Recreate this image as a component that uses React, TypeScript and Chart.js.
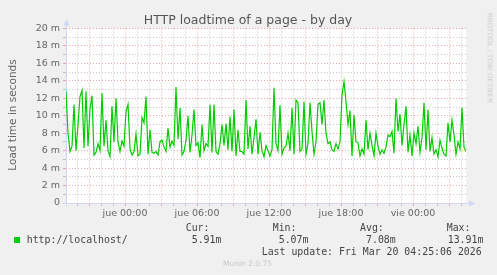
import React, { useEffect, useRef } from "react";
import { Chart, registerables } from "chart.js";

Chart.register(...registerables);

// ---------- data ----------
const chartTitle = "HTTP loadtime of a page - by day";
const yAxisTitle = "Load time in seconds";
const seriesName = "http://localhost/";
const sideText = "RRDTOOL / TOBI OETIKER";
const footerText = "Munin 2.0.75";
const lastUpdate = "Last update: Fri Mar 20 04:25:06 2026";

// one sample every 10 minutes, starting Wed 19:05 (hours since Wed 00:00)
const startHour = 19 + 5 / 60;
const stepHours = 10 / 60;

// load time in milliseconds ("m")
const loadTime = [
  12.8, 8.0, 5.9, 6.5, 11.3, 6.0, 9.0, 12.2, 12.9, 6.3,
  12.8, 6.5, 10.8, 12.3, 5.5, 5.8, 6.8, 6.0, 12.6, 6.5,
  9.5, 6.0, 5.3, 11.1, 7.0, 12.0, 7.0, 5.9, 7.1, 6.5,
  10.5, 11.3, 6.2, 5.5, 5.9, 7.9, 5.4, 5.6, 9.8, 9.2,
  12.2, 5.6, 8.4, 5.8, 5.7, 5.9, 5.5, 7.0, 7.2, 6.4,
  5.9, 8.6, 6.4, 7.1, 6.6, 13.3, 7.3, 10.9, 5.5, 5.9,
  7.2, 10.0, 5.8, 7.8, 10.7, 6.6, 6.9, 5.2, 9.0, 6.0,
  6.8, 6.5, 11.3, 5.8, 11.3, 5.9, 5.6, 6.8, 9.0, 6.6,
  9.1, 6.1, 9.9, 5.9, 10.7, 5.4, 8.4, 5.9, 5.9, 5.6,
  11.8, 6.2, 8.8, 5.6, 7.5, 9.6, 5.6, 8.1, 6.0, 5.3,
  6.6, 6.0, 5.4, 6.1, 13.2, 6.8, 6.0, 11.2, 5.6, 6.3,
  6.5, 8.0, 6.0, 10.9, 5.6, 11.8, 11.5, 5.9, 6.2, 11.6,
  5.6, 6.8, 11.5, 8.2, 5.6, 7.0, 11.3, 11.5, 9.0, 11.8,
  8.0, 6.8, 7.0, 6.1, 5.9, 6.8, 6.2, 7.0, 12.4, 13.9,
  11.6, 9.0, 10.6, 5.4, 10.1, 7.0, 6.9, 5.4, 6.2, 5.6,
  9.5, 6.1, 8.0, 6.6, 5.4, 8.0, 6.5, 5.6, 6.1, 5.7,
  6.4, 7.8, 7.6, 8.2, 5.7, 12.0, 8.2, 10.2, 6.6, 9.0,
  11.1, 5.8, 7.8, 5.4, 8.0, 6.8, 8.8, 5.8, 7.5, 11.5,
  6.1, 10.7, 5.9, 7.5, 5.6, 6.1, 5.3, 7.2, 6.3, 5.6,
  5.4, 9.2, 7.0, 9.5, 7.8, 5.6, 7.0, 6.2, 10.9, 6.4,
  5.91,
];

const xTickHours = [24, 30, 36, 42, 48];
const xTickLabels = ["jue 00:00", "jue 06:00", "jue 12:00", "jue 18:00", "vie 00:00"];
const yMin = 0;
const yMax = 20;
const yUnit = "m";

const statLabels = ["Cur:", "Min:", "Avg:", "Max:"];
const statValues = ["5.91m", "5.07m", "7.08m", "13.91m"];

// ---------- styles ----------
const BG = "#F0F0F0";
const FONT_COLOR = "#666666";
const LINE_COLOR = "#00CC00";
const AXIS_COLOR = "#CFD6F8";
const GRID_MINOR = "rgba(143,143,143,0.5)";
const GRID_MAJOR = "rgba(222,79,79,0.5)";
const SANS = "'DejaVu Sans', sans-serif";
const MONO = "'DejaVu Sans Mono', monospace";

const endHour = startHour + (loadTime.length - 1) * stepHours;

const axisPlugin = {
  id: "muninAxes",
  beforeDraw(chart: any) {
    const { ctx, chartArea } = chart;
    ctx.save();
    ctx.fillStyle = "#FFFFFF";
    ctx.fillRect(chartArea.left, chartArea.top, chartArea.right - chartArea.left, chartArea.bottom - chartArea.top);
    ctx.restore();
  },
  beforeDatasetsDraw(chart: any) {
    const { ctx, chartArea } = chart;
    const l = Math.round(chartArea.left) + 0.5;
    const b = Math.round(chartArea.bottom) + 0.5;
    ctx.save();
    ctx.strokeStyle = AXIS_COLOR;
    ctx.fillStyle = AXIS_COLOR;
    ctx.lineWidth = 1;
    ctx.beginPath();
    ctx.moveTo(l - 3, b);
    ctx.lineTo(chartArea.right + 4, b);
    ctx.moveTo(l, b + 3);
    ctx.lineTo(l, chartArea.top - 4);
    ctx.stroke();
    ctx.beginPath();
    ctx.moveTo(chartArea.right + 9, b);
    ctx.lineTo(chartArea.right + 3, b - 3);
    ctx.lineTo(chartArea.right + 3, b + 3);
    ctx.closePath();
    ctx.fill();
    ctx.beginPath();
    ctx.moveTo(l, chartArea.top - 9);
    ctx.lineTo(l - 3, chartArea.top - 3);
    ctx.lineTo(l + 3, chartArea.top - 3);
    ctx.closePath();
    ctx.fill();
    ctx.restore();
  },
};

function MuninChart() {
  const ref = useRef<HTMLCanvasElement | null>(null);
  useEffect(() => {
    if (!ref.current) return;
    const points = loadTime.map((v, i) => ({ x: startHour + i * stepHours, y: v }));
    const chart = new Chart(ref.current, {
      type: "line",
      data: {
        datasets: [
          {
            label: seriesName,
            data: points,
            borderColor: LINE_COLOR,
            borderWidth: 1.2,
            pointRadius: 0,
            tension: 0,
            fill: false,
          },
        ],
      },
      options: {
        animation: false,
        responsive: false,
        devicePixelRatio: 1,
        events: [],
        layout: { padding: { left: 0, top: 28.5, right: 31, bottom: 0 } },
        plugins: { legend: { display: false }, tooltip: { enabled: false }, title: { display: false } },
        scales: {
          x: {
            type: "linear",
            min: startHour,
            max: endHour,
            afterBuildTicks: (scale: any) => {
              const t: any[] = [];
              for (let h = Math.ceil(startHour); h <= Math.floor(endHour); h++) t.push({ value: h });
              scale.ticks = t;
            },
            afterFit: (scale: any) => {
              scale.height = 72;
            },
            ticks: {
              autoSkip: false,
              maxRotation: 0,
              minRotation: 0,
              padding: 2,
              color: FONT_COLOR,
              font: { family: "DejaVu Sans", size: 9.5 },
              callback: (v: any) => {
                const k = xTickHours.indexOf(Number(v));
                return k >= 0 ? xTickLabels[k] : "";
              },
            },
            grid: {
              color: (c: any) => (c.tick && Number(c.tick.value) % 3 === 0 ? GRID_MAJOR : GRID_MINOR),
              tickLength: 3,
              lineWidth: 1,
            },
            border: { display: false, dash: [1, 2] },
          },
          y: {
            type: "linear",
            min: yMin,
            max: yMax,
            afterBuildTicks: (scale: any) => {
              const t: any[] = [];
              for (let v = yMin; v <= yMax; v++) t.push({ value: v });
              scale.ticks = t;
            },
            afterFit: (scale: any) => {
              scale.width = 66;
            },
            ticks: {
              autoSkip: false,
              padding: 3,
              color: FONT_COLOR,
              font: { family: "DejaVu Sans", size: 9.5 },
              callback: (v: any) => {
                const n = Number(v);
                if (n % 2 !== 0) return "";
                return n === 0 ? "0" : `${n} ${yUnit}`;
              },
            },
            grid: {
              color: (c: any) => (c.tick && Number(c.tick.value) % 2 === 0 ? GRID_MAJOR : GRID_MINOR),
              tickLength: 3,
              lineWidth: 1,
            },
            border: { display: false, dash: [1, 2] },
          },
        },
      },
      plugins: [axisPlugin],
    } as any);
    return () => chart.destroy();
  }, []);
  return <canvas ref={ref} width={497} height={275} style={{ position: "absolute", left: 0, top: 0 }} />;
}

function Txt(props: { x: number; y: number; text: string; size: number; color?: string; font?: string; anchor?: "left" | "center"; rotate?: number }) {
  const { x, y, text, size, color = FONT_COLOR, font = SANS, anchor = "left", rotate = 0 } = props;
  const tx = anchor === "center" ? "-50%" : "0";
  return (
    <div
      style={{
        position: "absolute",
        left: x,
        top: y,
        transform: `translate(${tx}, -50%) rotate(${rotate}deg)`,
        transformOrigin: anchor === "center" ? "50% 50%" : "0 50%",
        fontFamily: font,
        fontSize: size,
        lineHeight: 1,
        color,
        whiteSpace: "pre",
      }}
    >
      {text}
    </div>
  );
}

export default function App() {
  const statLabelX = [185.7, 272.7, 360, 446.7];
  const statValueX = [191.7, 278.7, 366, 447.7];
  return (
    <div style={{ position: "absolute", left: 0, top: 0, width: 497, height: 275, background: BG, overflow: "hidden" }}>
      <MuninChart />
      <Txt x={248} y={19.5} text={chartTitle} size={12.5} anchor="center" color="#555555" />
      <Txt x={11.5} y={114.5} text={yAxisTitle} size={10.5} anchor="center" rotate={-90} />
      <Txt x={488.5} y={57.5} text={sideText} size={7} anchor="center" rotate={90} color="#CCCCCC" />
      <div style={{ position: "absolute", left: 14, top: 237, width: 6, height: 6, background: LINE_COLOR }} />
      <Txt x={26.7} y={240} text={seriesName} size={9.9} font={MONO} color="#444444" />
      {statLabels.map((s, i) => (
        <Txt key={"l" + i} x={statLabelX[i]} y={228} text={s} size={9.9} font={MONO} color="#444444" />
      ))}
      {statValues.map((s, i) => (
        <Txt key={"v" + i} x={statValueX[i]} y={240} text={s} size={9.9} font={MONO} color="#444444" />
      ))}
      <Txt x={261.7} y={251.7} text={lastUpdate} size={9.9} font={MONO} color="#444444" />
      <Txt x={247.5} y={264} text={footerText} size={7.5} anchor="center" color="#C8C8C8" />
    </div>
  );
}
